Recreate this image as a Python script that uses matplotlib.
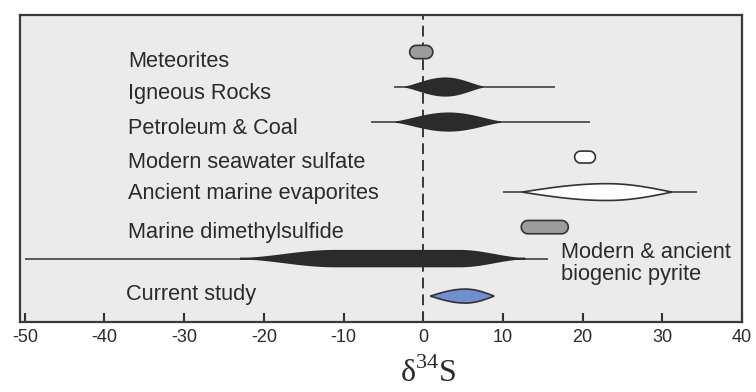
import numpy as np
import matplotlib
matplotlib.use("Agg")
import matplotlib.pyplot as plt

plt.rcParams["font.family"] = ["Liberation Sans", "DejaVu Sans"]
plt.rcParams["mathtext.fontset"] = "custom"
plt.rcParams["mathtext.rm"] = "Liberation Serif"

# Sulfur isotope ranges (delta 34S, permil) for each reservoir
sources = [
    "Meteorites",
    "Igneous Rocks",
    "Petroleum & Coal",
    "Modern seawater sulfate",
    "Ancient marine evaporites",
    "Marine dimethylsulfide",
    "Modern & ancient\nbiogenic pyrite",
    "Current study",
]
# full extent (thin line); None where only the core range is shown
range_min = [None, -3.7, -6.5, None, 10.0, None, -50.0, None]
range_max = [None, 16.5, 20.9, None, 34.3, None, 15.6, None]
# common range (filled body)
core_min = [-1.7, -2.2, -3.4, 19.0, 12.4, 12.3, -23.0, 0.9]
core_max = [1.2, 7.5, 9.7, 21.6, 31.2, 18.2, 12.8, 8.9]
# most frequent interval inside the body (start, end)
mode_lo = [None, 2.8, 3.2, None, 23.1, None, -11.0, 5.3]
mode_hi = [None, 2.8, 3.2, None, 23.1, None, 4.5, 5.3]

xticks = [-50, -40, -30, -20, -10, 0, 10, 20, 30, 40]

# drawing style per row
kind = ["pill", "lens", "lens", "pill", "lens", "pill", "lens", "lens"]
face = ["#9c9c9c", "#2b2b2b", "#2b2b2b", "#ffffff", "#ffffff", "#9c9c9c", "#2b2b2b", "#6f8fcf"]
edge = ["#333333", "#2b2b2b", "#2b2b2b", "#333333", "#333333", "#333333", "#2b2b2b", "#333333"]
power = [None, 0.65, 0.65, None, 0.5, None, 0.9, 0.5]
half = [0.19, 0.25, 0.25, 0.17, 0.24, 0.19, 0.225, 0.20]
row_y = [0, 1, 2, 3, 4, 5, 5.9, 6.97]
label_x = [-37.0, -37.0, -37.0, -37.0, -37.0, -37.0, 17.3, -37.3]
label_y = [0.44, 1.33, 2.33, 3.3, 4.2, 5.3, 5.42, 7.09]

fig = plt.figure(figsize=(7.56, 3.92), dpi=100)
ax = fig.add_axes([20 / 756, 1 - 322 / 392, 722 / 756, 307 / 392])
ax.set_facecolor("#ebebeb")
ax.set_xlim(-50.6, 40)
ax.set_ylim(7.71, -1.057)

fig.canvas.draw()
p0 = ax.transData.transform((0, 0))
p1 = ax.transData.transform((1, 1))
px_per_x = abs(p1[0] - p0[0])
px_per_y = abs(p1[1] - p0[1])


def lens_outline(lo, m1, m2, hi, y, h, p, n=300):
    t = np.linspace(lo, hi, n)
    s = np.ones_like(t)
    left = t < m1
    right = t > m2
    s[left] = (t[left] - lo) / (m1 - lo)
    s[right] = (hi - t[right]) / (hi - m2)
    w = h * ((1 - np.cos(np.pi * s)) / 2) ** p
    xs = np.concatenate([t, t[::-1]])
    ys = np.concatenate([y - w, (y + w)[::-1]])
    return xs, ys


def pill_outline(lo, hi, y, h, n=60):
    ry = h
    rx = h * px_per_y / px_per_x
    a = np.linspace(np.pi / 2, 3 * np.pi / 2, n)
    lx = lo + rx + rx * np.cos(a)
    ly = y - ry * np.sin(a)
    b = np.linspace(-np.pi / 2, np.pi / 2, n)
    rxs = hi - rx + rx * np.cos(b)
    rys = y - ry * np.sin(b)
    return np.concatenate([lx, rxs]), np.concatenate([ly, rys])


ax.axvline(0, color="#2b2b2b", lw=1.3, ls=(0, (6, 3.3)), zorder=1)

for i, name in enumerate(sources):
    y = row_y[i]
    if range_min[i] is not None:
        ax.plot([range_min[i], range_max[i]], [y, y], color="#333333",
                lw=1.1, zorder=2, solid_capstyle="butt")
    if kind[i] == "pill":
        xs, ys = pill_outline(core_min[i], core_max[i], y, half[i])
    else:
        xs, ys = lens_outline(core_min[i], mode_lo[i], mode_hi[i], core_max[i],
                              y, half[i], power[i])
    ax.fill(xs, ys, facecolor=face[i], edgecolor=edge[i], lw=1.2, zorder=3)
    if i == 6:
        ax.text(label_x[i], label_y[i], name, fontsize=15.7, color="#2a2a2a",
                va="top", ha="left", linespacing=1.1)
    else:
        ax.text(label_x[i], label_y[i], name, fontsize=15.7, color="#2a2a2a",
                va="baseline", ha="left")

ax.set_yticks([])
ax.set_xticks(xticks)
ax.set_xticklabels([str(v) for v in xticks])
ax.tick_params(axis="x", direction="in", length=6.5, width=1.5, pad=5,
               labelsize=13, colors="#333333", labelcolor="#2a2a2a")
for sp in ax.spines.values():
    sp.set_linewidth(1.6)
    sp.set_color("#3a3a3a")

fig.text(428 / 756, 1 - 373 / 392, r"$\mathrm{δ}^{34}\mathrm{S}$", fontsize=23,
         ha="center", va="center", color="#2a2a2a")

fig.savefig("out.png", dpi=100, facecolor="white")
